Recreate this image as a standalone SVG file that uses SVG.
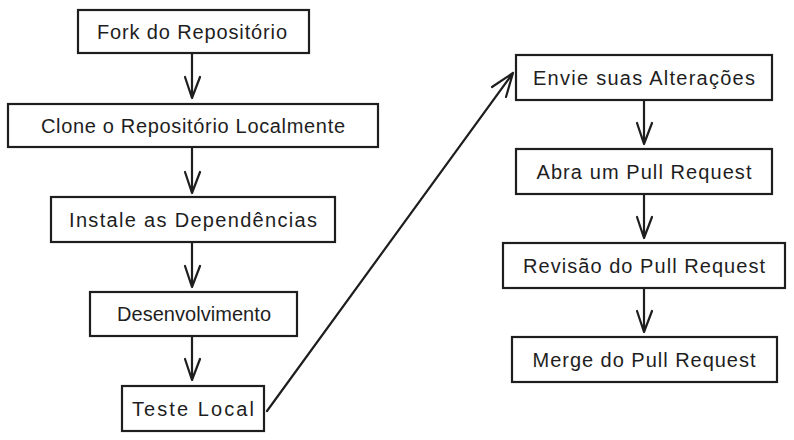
<svg xmlns="http://www.w3.org/2000/svg" width="794" height="440" viewBox="0 0 794 440">
<style>
.box{fill:#ffffff;stroke:#1e1e1e;stroke-width:2.2}
.lbl{font-family:"Liberation Sans",Arial,sans-serif;font-size:20px;fill:#1e1e1e;text-anchor:middle;dominant-baseline:central}
.edge{fill:none;stroke:#1e1e1e;stroke-width:2.2;stroke-linecap:round;stroke-linejoin:round}
</style>
<rect width="794" height="440" fill="#ffffff"/>
<g id="connectors">
<path class="edge" d="M192 53 L192 98 M185 77 L192 98 L200 77"/>
<path class="edge" d="M192 147 L192 193 M185 172 L192 193 L200 172"/>
<path class="edge" d="M192 242 L192 287 M185 266 L192 287 L200 266"/>
<path class="edge" d="M192 336 L192 380 M185 359 L192 380 L200 359"/>
<path class="edge" d="M267 411 L513 73 M492 87 L513 73 L506 97"/>
<path class="edge" d="M644 100 L644 144 M637 123 L644 144 L652 123"/>
<path class="edge" d="M644 194 L644 238 M637 217 L644 238 L652 217"/>
<path class="edge" d="M644 288 L644 332 M637 311 L644 332 L652 311"/>
</g>
<g id="n1"><rect class="box" x="78" y="10" width="231" height="43"/><text class="lbl" x="192" y="32" textLength="190" lengthAdjust="spacing">Fork do Repositório</text></g>
<g id="n2"><rect class="box" x="8" y="104" width="370" height="43"/><text class="lbl" x="193" y="126" textLength="304" lengthAdjust="spacing">Clone o Repositório Localmente</text></g>
<g id="n3"><rect class="box" x="51" y="197" width="284" height="45"/><text class="lbl" x="193" y="220" textLength="248" lengthAdjust="spacing">Instale as Dependências</text></g>
<g id="n4"><rect class="box" x="90" y="292" width="207" height="44"/><text class="lbl" x="194" y="314" textLength="154" lengthAdjust="spacing">Desenvolvimento</text></g>
<g id="n5"><rect class="box" x="122" y="386" width="142" height="45"/><text class="lbl" x="193" y="409" textLength="122" lengthAdjust="spacing">Teste Local</text></g>
<g id="n6"><rect class="box" x="516" y="55" width="256" height="45"/><text class="lbl" x="644" y="78" textLength="222" lengthAdjust="spacing">Envie suas Alterações</text></g>
<g id="n7"><rect class="box" x="516" y="149" width="256" height="45"/><text class="lbl" x="644" y="172" textLength="215" lengthAdjust="spacing">Abra um Pull Request</text></g>
<g id="n8"><rect class="box" x="503" y="243" width="282" height="45"/><text class="lbl" x="644" y="266" textLength="242" lengthAdjust="spacing">Revisão do Pull Request</text></g>
<g id="n9"><rect class="box" x="512" y="337" width="265" height="45"/><text class="lbl" x="644" y="360" textLength="223" lengthAdjust="spacing">Merge do Pull Request</text></g>
</svg>
